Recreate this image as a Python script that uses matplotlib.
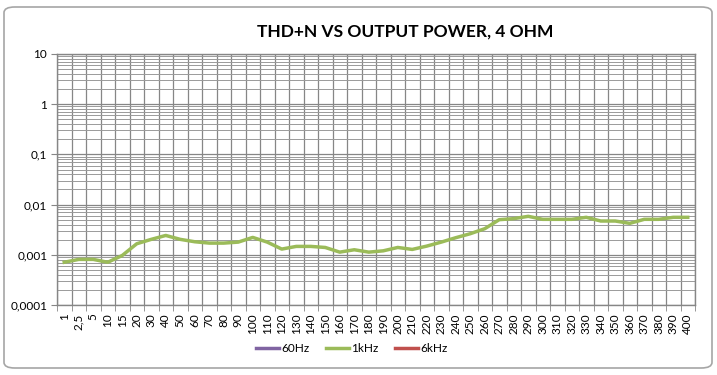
import numpy as np
import matplotlib
matplotlib.use("Agg")
import matplotlib.pyplot as plt
from matplotlib.patches import FancyBboxPatch
from matplotlib.ticker import FixedLocator, LogLocator, NullFormatter

# Output power categories (W) and THD+N values (%)
power_labels = ["1", "2,5", "5", "10", "15", "20"] + [str(v) for v in range(30, 401, 10)]
thd_1khz = [0.00071, 0.00081, 0.00081, 0.00071, 0.00097, 0.00166, 0.00203, 0.00243,
            0.00203, 0.00182, 0.00171, 0.00171, 0.00179, 0.00222, 0.00179, 0.00130,
            0.00147, 0.00147, 0.00140, 0.00113, 0.00126, 0.00113, 0.00120, 0.00140,
            0.00128, 0.00149, 0.00179, 0.00219, 0.00263, 0.00331, 0.00501, 0.00525,
            0.00584, 0.00509, 0.00509, 0.00509, 0.00558, 0.00471, 0.00471, 0.00423,
            0.00509, 0.00509, 0.00558, 0.00558]
thd_60hz = []
thd_6khz = []
y_tick_values = [0.0001, 0.001, 0.01, 0.1, 1, 10]
y_tick_labels = ["0,0001", "0,001", "0,01", "0,1", "1", "10"]

plt.rcParams["font.family"] = ["Lato", "DejaVu Sans"]

fig = plt.figure(figsize=(7.17, 3.75), dpi=100)
fig.patch.set_facecolor("white")

# rounded chart border
frame = FancyBboxPatch((4 / 717, 7 / 375), 708 / 717, 361 / 375,
                       boxstyle="round,pad=0,rounding_size=0.015",
                       transform=fig.transFigure, facecolor="white",
                       edgecolor="#a6a6a6", linewidth=1.2, zorder=-10)
fig.add_artist(frame)

ax = fig.add_axes([57 / 717, 1 - 305 / 375, 638 / 717, 251 / 375])
ax.set_facecolor("none")

x = np.arange(len(power_labels))
ax.plot(np.arange(len(thd_60hz)), thd_60hz, color="#8064a2", lw=2.5, label="60Hz")
ax.plot(x, thd_1khz, color="#9bbb59", lw=2.5, label="1kHz", solid_joinstyle="round")
ax.plot(np.arange(len(thd_6khz)), thd_6khz, color="#c0504d", lw=2.5, label="6kHz")

ax.set_yscale("log")
ax.set_ylim(1e-4, 10)
ax.set_xlim(-0.5, len(power_labels) - 0.5)

ax.yaxis.set_major_locator(FixedLocator(y_tick_values))
ax.set_yticklabels(y_tick_labels)
ax.yaxis.set_minor_locator(LogLocator(base=10, subs=np.arange(2, 10)))
ax.yaxis.set_minor_formatter(NullFormatter())

ax.set_xticks(x)
ax.set_xticklabels(power_labels, rotation=90)
ax.xaxis.set_minor_locator(FixedLocator(np.arange(-0.5, len(power_labels), 1)))

ax.tick_params(axis="y", which="major", length=4, color="#868686", labelsize=8.5, pad=3)
ax.tick_params(axis="y", which="minor", length=0)
ax.tick_params(axis="x", which="major", length=0, labelsize=8.5, pad=6)
ax.tick_params(axis="x", which="minor", length=4, color="#868686")

ax.yaxis.grid(True, which="major", color="#868686", lw=0.9)
ax.yaxis.grid(True, which="minor", color="#9a9a9a", lw=0.7)
ax.xaxis.grid(True, which="minor", color="#868686", lw=0.9)
ax.xaxis.grid(False, which="major")
ax.set_axisbelow(True)

for side in ["top", "right", "left", "bottom"]:
    ax.spines[side].set_color("#868686")
    ax.spines[side].set_linewidth(1.0)

fig.text(405 / 717, 1 - 32 / 375, "THD+N VS OUTPUT POWER, 4 OHM",
         ha="center", va="center", fontsize=12.5, fontweight="bold")

fig.legend(loc="center", bbox_to_anchor=(352 / 717, 1 - 349 / 375), ncol=3,
           frameon=False, fontsize=8.5, handlelength=1.9, columnspacing=1.4,
           handletextpad=0.25)

fig.savefig("out.png", dpi=100)
